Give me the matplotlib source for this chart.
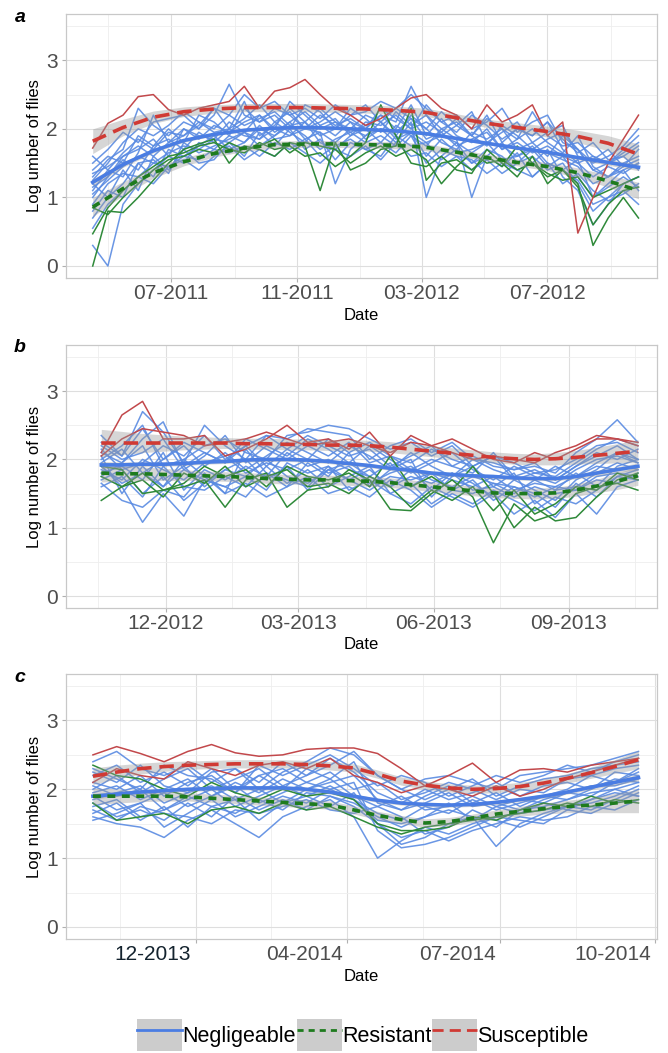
import matplotlib
matplotlib.use('Agg')
import matplotlib.pyplot as plt
import matplotlib.dates as mdates
import numpy as np
import pandas as pd
from matplotlib.lines import Line2D
from matplotlib.patches import Patch
from matplotlib.transforms import ScaledTranslation

plt.rcParams['font.family'] = ['Liberation Sans', 'DejaVu Sans']

BLUE = '#5a8be2'
GREEN = '#2f8a3a'
RED = '#c2484b'
BLUE_FIT = '#4a7de3'
GREEN_FIT = '#1e7b1e'
RED_FIT = '#d03a34'

# Données panneau a (2011-2012), un point toutes les deux semaines
a_dates = pd.date_range('2011-04-16', '2012-09-28', periods=37).to_numpy()
a_negligeable = [
    [1.3, 1.55, 1.7, 2.3, 2.05, 1.9, 2.1, 2.0, 2.2, 2.65, 2.2, 2.1, 2.3, 2.2, 2.0, 2.1, 2.25, 2.1, 2.0, 2.2, 2.1, 2.62, 2.2, 2.0, 2.1, 1.9, 2.2, 1.8, 2.0, 1.9, 2.1, 1.7, 1.5, 1.6, 1.5, 1.7, 1.9],
    [0.3, 0.0, 0.9, 1.2, 1.4, 1.6, 1.5, 1.8, 1.7, 1.9, 1.8, 2.0, 1.9, 2.1, 1.85, 1.95, 1.2, 1.7, 1.9, 2.0, 1.8, 2.1, 1.0, 1.6, 1.8, 1.5, 1.7, 1.6, 1.4, 1.5, 1.7, 1.3, 1.1, 0.6, 0.9, 1.2, 1.3],
    [1.1, 1.4, 1.3, 1.65, 2.2, 1.8, 1.9, 2.1, 1.95, 2.0, 2.4, 1.9, 2.05, 2.3, 2.1, 1.9, 2.0, 2.2, 2.35, 2.1, 1.9, 2.2, 2.0, 1.8, 1.7, 1.95, 1.85, 2.0, 1.7, 1.8, 1.6, 1.9, 1.7, 1.4, 1.3, 1.5, 1.6],
    [0.7, 1.0, 1.2, 1.5, 1.3, 1.7, 1.6, 1.75, 1.9, 1.7, 1.8, 2.05, 1.85, 1.9, 2.1, 1.8, 1.7, 1.9, 2.0, 1.8, 2.05, 1.9, 1.75, 2.0, 1.85, 1.0, 1.6, 1.8, 1.5, 1.7, 1.45, 1.6, 1.3, 1.0, 1.2, 1.4, 1.1],
    [1.5, 1.7, 1.95, 1.8, 2.1, 2.15, 2.2, 2.0, 2.3, 2.2, 2.5, 2.3, 2.4, 2.2, 2.3, 2.15, 2.35, 2.2, 2.25, 2.4, 2.3, 2.5, 2.3, 2.1, 2.2, 2.0, 2.1, 2.3, 1.95, 2.1, 2.2, 1.8, 1.7, 1.5, 1.6, 1.75, 2.0],
    [1.2, 1.0, 1.4, 1.1, 1.6, 1.4, 1.7, 1.5, 1.55, 1.8, 1.6, 1.95, 1.75, 2.0, 1.7, 1.85, 1.55, 1.8, 1.7, 1.6, 1.9, 1.75, 1.8, 1.55, 1.7, 1.5, 1.6, 1.45, 1.65, 1.3, 1.5, 1.4, 1.25, 0.9, 1.0, 1.1, 0.9],
    [1.0, 1.3, 1.6, 1.7, 1.85, 1.6, 2.0, 1.9, 1.85, 2.1, 1.95, 2.2, 2.0, 2.4, 2.2, 2.0, 2.1, 1.95, 2.05, 2.2, 2.0, 2.35, 1.9, 2.15, 1.9, 1.8, 2.0, 1.7, 1.85, 2.0, 1.8, 1.65, 1.9, 1.45, 1.3, 1.4, 1.5],
    [1.4, 1.6, 1.5, 1.9, 1.75, 2.0, 1.8, 2.2, 2.1, 1.9, 2.3, 2.1, 2.2, 2.0, 2.35, 2.25, 2.0, 2.3, 2.15, 1.95, 2.25, 2.05, 2.2, 1.9, 2.05, 2.25, 1.8, 1.95, 2.1, 1.8, 1.95, 2.05, 1.6, 1.55, 1.7, 1.45, 1.7],
    [0.9, 1.2, 1.35, 1.3, 1.5, 1.45, 1.6, 1.55, 1.7, 1.65, 1.75, 1.6, 1.8, 1.7, 1.85, 1.6, 1.75, 1.85, 1.7, 1.8, 1.65, 1.9, 1.5, 1.7, 1.6, 1.4, 1.55, 1.35, 1.5, 1.6, 1.4, 1.5, 1.2, 0.8, 1.0, 1.2, 1.3],
    [1.25, 1.5, 1.8, 2.0, 1.9, 2.05, 2.25, 2.1, 2.0, 2.2, 2.05, 2.15, 2.25, 2.05, 2.1, 2.3, 2.1, 2.0, 2.2, 2.1, 2.3, 2.15, 2.0, 2.25, 2.05, 1.9, 2.15, 2.0, 1.85, 2.25, 1.9, 1.75, 1.8, 1.6, 1.5, 1.65, 1.8],
    [0.55, 0.9, 1.1, 1.3, 1.2, 1.45, 1.55, 1.4, 1.6, 1.75, 1.55, 1.7, 1.6, 1.8, 1.65, 1.5, 1.7, 1.6, 1.75, 1.55, 1.8, 1.6, 1.65, 1.45, 1.6, 1.55, 1.35, 1.5, 1.4, 1.3, 1.5, 1.2, 1.35, 1.1, 0.95, 1.05, 1.2],
    [1.6, 1.4, 1.65, 1.85, 1.7, 1.95, 1.9, 2.05, 2.3, 2.0, 2.15, 2.35, 2.1, 2.25, 2.0, 2.2, 2.05, 2.15, 2.0, 2.3, 2.15, 2.0, 2.35, 2.1, 1.95, 2.2, 2.05, 1.85, 2.0, 1.9, 2.1, 1.85, 1.65, 1.8, 1.55, 1.6, 1.75],
    [1.15, 1.3, 1.55, 1.4, 1.75, 1.85, 1.7, 1.95, 1.8, 2.0, 1.9, 1.85, 2.1, 1.95, 1.8, 2.05, 1.9, 2.1, 1.85, 2.0, 1.95, 2.15, 1.85, 1.95, 1.75, 1.85, 1.95, 1.7, 1.8, 1.65, 1.75, 1.6, 1.5, 1.3, 1.45, 1.35, 1.5],
    [0.8, 1.1, 1.0, 1.5, 1.55, 1.35, 1.8, 1.65, 1.75, 1.85, 1.95, 1.75, 1.9, 2.05, 1.9, 1.7, 1.85, 1.95, 1.8, 1.9, 1.75, 1.95, 1.6, 1.85, 1.65, 1.7, 1.8, 1.55, 1.6, 1.75, 1.5, 1.4, 1.55, 1.0, 1.15, 1.3, 1.15],
    [1.35, 1.45, 1.6, 1.75, 1.6, 1.8, 2.0, 1.85, 2.05, 1.95, 2.1, 2.2, 1.95, 2.1, 2.25, 2.05, 2.15, 1.9, 2.1, 2.05, 2.2, 2.0, 2.1, 1.95, 2.15, 1.9, 1.75, 2.05, 1.9, 1.7, 1.85, 1.95, 1.7, 1.4, 1.5, 1.6, 1.4],
    [1.05, 1.25, 1.45, 1.6, 1.5, 1.65, 1.75, 1.7, 1.85, 1.8, 1.95, 1.85, 2.0, 1.9, 2.0, 1.95, 1.8, 2.0, 1.9, 2.1, 1.85, 1.95, 1.8, 1.9, 1.8, 1.65, 1.8, 1.75, 1.6, 1.7, 1.65, 1.55, 1.45, 1.2, 1.3, 1.45, 1.55],
]
a_resistant = [
    [0.0, 0.8, 0.78, 1.0, 1.25, 1.5, 1.7, 1.78, 1.85, 1.5, 1.75, 1.7, 1.6, 1.8, 1.75, 1.1, 1.8, 1.4, 1.5, 1.7, 1.75, 2.3, 1.25, 1.5, 1.55, 1.4, 1.6, 1.45, 1.75, 1.5, 1.3, 1.4, 1.2, 0.3, 0.7, 1.0, 0.7],
    [0.47, 0.85, 1.1, 1.3, 1.45, 1.6, 1.65, 1.75, 1.8, 1.7, 1.65, 1.8, 1.7, 1.75, 1.6, 1.65, 1.45, 1.6, 1.8, 2.35, 1.9, 1.5, 1.45, 1.6, 1.4, 1.35, 1.7, 1.5, 1.3, 1.6, 1.2, 1.4, 1.15, 0.6, 0.9, 1.1, 1.15],
    [0.85, 0.75, 1.0, 1.2, 1.4, 1.55, 1.6, 1.7, 1.65, 1.8, 1.7, 1.75, 1.85, 1.65, 1.8, 1.75, 1.7, 1.5, 1.65, 1.75, 1.6, 1.7, 1.55, 1.2, 1.45, 1.65, 1.5, 1.55, 1.4, 1.5, 1.35, 1.25, 1.3, 1.0, 1.1, 1.2, 1.3],
]
a_susceptible = [
    [1.72, 2.08, 2.2, 2.47, 2.5, 2.28, 2.2, 2.3, 2.35, 2.4, 2.62, 2.3, 2.55, 2.6, 2.72, 2.5, 2.3, 2.2, 2.05, 2.15, 2.3, 2.45, 2.5, 2.3, 2.2, 2.0, 2.35, 2.1, 2.2, 2.35, 1.9, 2.1, 0.48, 1.0, 1.5, 1.85, 2.2],
]
# courbes lissées (loess) et leur erreur standard, lues une date sur deux
a_fit_dates = a_dates[::2]
a_fit_neg = [1.22, 1.48, 1.68, 1.83, 1.92, 1.98, 2.01, 2.02, 2.01, 1.99, 1.97, 1.93, 1.86, 1.79, 1.72, 1.66, 1.58, 1.51, 1.44]
a_fit_res = [0.86, 1.13, 1.36, 1.52, 1.64, 1.72, 1.77, 1.78, 1.78, 1.77, 1.76, 1.73, 1.66, 1.58, 1.51, 1.45, 1.36, 1.24, 1.1]
a_fit_sus = [1.82, 2.02, 2.17, 2.25, 2.29, 2.31, 2.31, 2.31, 2.3, 2.29, 2.27, 2.24, 2.16, 2.08, 2.02, 1.96, 1.89, 1.79, 1.63]
a_se_neg = [0.05, 0.04, 0.03, 0.025, 0.02, 0.02, 0.02, 0.02, 0.02, 0.02, 0.02, 0.02, 0.02, 0.02, 0.02, 0.025, 0.03, 0.04, 0.05]
a_se_res = [0.14, 0.1, 0.08, 0.06, 0.05, 0.05, 0.05, 0.05, 0.05, 0.05, 0.05, 0.05, 0.05, 0.05, 0.05, 0.06, 0.07, 0.09, 0.12]
a_se_sus = [0.18, 0.12, 0.09, 0.07, 0.06, 0.06, 0.06, 0.06, 0.06, 0.06, 0.06, 0.06, 0.06, 0.06, 0.07, 0.08, 0.09, 0.11, 0.15]
a_ticks = ['2011-07-01', '2011-11-01', '2012-03-01', '2012-07-01']
a_minor = ['2011-05-01', '2011-09-01', '2012-01-01', '2012-05-01', '2012-09-01']
a_ticklabels = ['07-2011', '11-2011', '03-2012', '07-2012']
a_xlim = ['2011-03-21', '2012-10-16']

# Données panneau b (2012-2013)
b_dates = pd.date_range('2012-10-18', '2013-10-18', periods=27).to_numpy()
b_negligeable = [
    [2.35, 2.05, 2.7, 2.4, 1.95, 2.5, 2.2, 2.0, 2.35, 2.3, 2.45, 2.4, 2.35, 2.0, 2.2, 2.3, 2.1, 2.25, 2.0, 1.95, 1.85, 1.9, 1.8, 2.1, 2.3, 2.58, 2.25],
    [1.9, 1.6, 1.08, 1.5, 1.17, 1.7, 1.6, 1.45, 1.8, 1.7, 1.6, 1.9, 1.55, 1.7, 1.5, 1.35, 1.6, 1.45, 1.3, 1.5, 1.2, 1.4, 1.15, 1.5, 1.2, 1.6, 1.7],
    [2.0, 2.2, 2.5, 1.9, 2.0, 2.2, 2.3, 2.1, 2.0, 2.35, 2.4, 2.5, 2.45, 2.3, 2.15, 2.25, 2.05, 2.2, 1.9, 2.05, 1.7, 1.8, 1.85, 2.0, 2.2, 2.25, 2.1],
    [1.7, 1.85, 1.5, 1.75, 1.4, 1.65, 1.85, 1.75, 1.55, 1.95, 1.8, 1.9, 1.7, 1.85, 1.6, 1.75, 1.65, 1.8, 1.55, 1.6, 1.45, 1.6, 1.5, 1.55, 1.7, 1.65, 1.8],
    [2.1, 1.95, 2.3, 2.55, 1.9, 2.1, 1.95, 2.3, 2.15, 2.0, 2.2, 2.05, 2.25, 1.95, 2.05, 1.85, 2.0, 1.9, 1.8, 2.1, 1.75, 1.85, 1.7, 1.9, 2.05, 2.2, 2.0],
    [1.6, 1.75, 1.45, 1.9, 1.6, 1.55, 1.75, 1.6, 1.9, 1.65, 1.85, 1.6, 1.75, 1.9, 1.5, 1.65, 1.35, 1.55, 1.7, 1.4, 1.6, 1.5, 1.3, 1.65, 1.45, 1.75, 1.85],
    [2.2, 2.0, 2.1, 2.3, 1.85, 2.05, 2.35, 1.95, 2.2, 2.05, 2.3, 2.15, 1.95, 2.2, 2.0, 1.8, 1.95, 2.1, 1.85, 1.7, 1.9, 1.75, 1.65, 1.85, 2.0, 2.05, 1.95],
    [1.8, 1.9, 1.7, 2.1, 1.55, 1.85, 1.7, 1.9, 1.75, 2.1, 1.9, 2.0, 1.85, 1.75, 1.95, 1.6, 1.8, 1.7, 1.6, 1.75, 1.55, 1.65, 1.6, 1.75, 1.9, 1.85, 1.9],
    [2.05, 1.5, 1.9, 1.6, 2.0, 1.75, 1.5, 2.15, 1.8, 1.6, 1.95, 1.75, 2.1, 1.6, 1.85, 2.0, 1.45, 1.75, 1.9, 1.6, 1.8, 1.35, 1.55, 1.8, 1.6, 1.9, 2.0],
    [1.95, 2.15, 1.8, 2.0, 2.2, 1.9, 2.1, 1.85, 2.05, 2.25, 2.1, 1.95, 2.2, 2.05, 1.85, 2.1, 1.9, 1.75, 2.0, 1.85, 1.75, 1.7, 1.9, 1.75, 1.95, 2.1, 1.95],
    [1.65, 1.4, 1.3, 1.55, 1.45, 1.8, 1.5, 1.65, 1.45, 1.6, 1.75, 1.5, 1.6, 1.45, 1.7, 1.55, 1.3, 1.5, 1.35, 1.55, 1.4, 1.25, 1.45, 1.35, 1.55, 1.75, 1.7],
    [2.25, 2.05, 2.45, 2.0, 2.25, 2.1, 1.95, 2.2, 2.35, 2.15, 2.0, 2.3, 2.1, 2.25, 2.05, 1.95, 2.15, 2.0, 1.9, 2.05, 1.95, 1.8, 1.75, 1.95, 2.15, 2.3, 2.2],
    [1.85, 1.7, 2.0, 1.85, 1.7, 1.95, 2.05, 1.8, 1.95, 1.85, 2.0, 1.8, 1.9, 1.65, 1.8, 1.9, 1.7, 1.6, 1.75, 1.65, 1.5, 1.7, 1.55, 1.6, 1.8, 1.95, 1.85],
    [1.75, 1.95, 2.2, 1.7, 1.9, 1.6, 1.85, 2.0, 1.7, 1.9, 1.55, 1.85, 1.95, 1.75, 1.6, 1.85, 1.55, 1.8, 1.65, 1.45, 1.7, 1.55, 1.4, 1.7, 1.85, 2.1, 2.0],
    [2.15, 1.85, 1.95, 2.2, 2.05, 2.35, 2.0, 2.2, 1.9, 2.15, 2.35, 2.2, 2.05, 2.15, 1.9, 2.05, 2.2, 1.9, 2.05, 1.9, 1.85, 1.95, 1.7, 1.9, 2.1, 2.0, 2.15],
    [1.9, 1.65, 1.8, 1.6, 1.85, 1.7, 1.6, 1.75, 2.0, 1.75, 1.65, 1.85, 1.7, 1.55, 1.75, 1.7, 1.8, 1.55, 1.5, 1.65, 1.6, 1.45, 1.6, 1.55, 1.75, 1.8, 1.75],
]
b_resistant = [
    [1.4, 1.6, 1.8, 1.55, 1.6, 1.7, 1.3, 1.7, 1.8, 1.3, 1.55, 1.6, 1.85, 1.7, 1.27, 1.25, 1.5, 1.7, 1.45, 0.78, 1.35, 1.1, 1.2, 1.5, 1.6, 1.65, 1.55],
    [1.9, 1.85, 1.5, 1.55, 1.65, 1.9, 1.75, 1.85, 1.6, 1.9, 1.75, 1.7, 1.8, 1.6, 2.05, 1.6, 1.75, 1.55, 1.9, 1.5, 1.0, 1.3, 1.1, 1.15, 1.45, 1.7, 1.8],
    [1.75, 1.6, 1.7, 1.45, 1.8, 1.65, 1.9, 1.6, 1.75, 1.85, 1.6, 1.65, 1.5, 1.75, 1.6, 1.3, 1.55, 1.4, 1.6, 1.25, 1.55, 1.2, 1.35, 1.6, 1.55, 1.8, 1.7],
]
b_susceptible = [
    [2.1, 2.65, 2.85, 2.3, 2.3, 2.35, 2.05, 2.15, 2.3, 2.5, 2.25, 2.3, 2.15, 2.4, 2.05, 2.35, 2.2, 2.3, 2.15, 2.0, 1.95, 2.1, 2.0, 2.15, 2.3, 2.3, 2.25],
    [2.05, 2.3, 2.45, 2.4, 2.35, 2.2, 2.25, 2.3, 2.4, 2.3, 2.2, 2.25, 2.3, 2.2, 2.1, 2.25, 2.2, 2.1, 2.0, 2.05, 2.0, 1.95, 2.1, 2.2, 2.35, 2.3, 2.2],
]
b_fit_dates = b_dates
b_fit_neg = [1.92, 1.92, 1.93, 1.93, 1.94, 1.96, 1.97, 1.99, 2.0, 2.0, 1.99, 1.97, 1.94, 1.91, 1.87, 1.84, 1.8, 1.78, 1.76, 1.75, 1.73, 1.72, 1.72, 1.75, 1.8, 1.85, 1.9]
b_fit_res = [1.8, 1.79, 1.79, 1.78, 1.77, 1.76, 1.75, 1.74, 1.72, 1.71, 1.7, 1.7, 1.69, 1.68, 1.66, 1.63, 1.6, 1.57, 1.54, 1.51, 1.5, 1.5, 1.51, 1.55, 1.61, 1.68, 1.76]
b_fit_sus = [2.24, 2.24, 2.24, 2.24, 2.24, 2.24, 2.24, 2.23, 2.23, 2.22, 2.22, 2.21, 2.21, 2.2, 2.18, 2.15, 2.12, 2.09, 2.06, 2.03, 2.01, 2.0, 2.01, 2.03, 2.06, 2.09, 2.12]
b_se_neg = [0.05, 0.04, 0.035, 0.03, 0.03, 0.03, 0.03, 0.03, 0.03, 0.03, 0.03, 0.03, 0.03, 0.03, 0.03, 0.03, 0.03, 0.03, 0.03, 0.03, 0.03, 0.03, 0.03, 0.035, 0.04, 0.045, 0.05]
b_se_res = [0.13, 0.11, 0.1, 0.09, 0.08, 0.07, 0.07, 0.07, 0.07, 0.07, 0.07, 0.07, 0.07, 0.07, 0.07, 0.07, 0.07, 0.07, 0.07, 0.07, 0.07, 0.08, 0.08, 0.09, 0.1, 0.12, 0.14]
b_se_sus = [0.2, 0.17, 0.14, 0.12, 0.1, 0.09, 0.08, 0.08, 0.08, 0.08, 0.08, 0.08, 0.08, 0.08, 0.08, 0.08, 0.08, 0.08, 0.08, 0.08, 0.08, 0.08, 0.09, 0.1, 0.12, 0.14, 0.17]
b_ticks = ['2012-12-01', '2013-03-01', '2013-06-01', '2013-09-01']
b_minor = ['2012-10-16', '2013-01-15', '2013-04-16', '2013-07-16', '2013-10-16']
b_ticklabels = ['12-2012', '03-2013', '06-2013', '09-2013']
b_xlim = ['2012-09-24', '2013-10-31']

# Données panneau c (2013-2014)
c_dates = pd.date_range('2013-11-01', '2014-09-21', periods=24).to_numpy()
c_negligeable = [
    [2.4, 2.55, 2.3, 2.2, 2.35, 2.1, 2.3, 2.0, 2.25, 2.4, 2.6, 2.5, 2.2, 2.0, 2.15, 2.2, 2.1, 2.0, 2.2, 2.25, 2.3, 2.35, 2.45, 2.55],
    [1.6, 1.5, 1.45, 1.3, 1.55, 1.7, 1.5, 1.3, 1.6, 1.75, 1.85, 1.6, 1.0, 1.25, 1.45, 1.35, 1.5, 1.6, 1.65, 1.7, 1.75, 1.85, 1.95, 1.9],
    [2.1, 2.0, 2.2, 1.9, 2.1, 2.2, 1.95, 2.2, 2.0, 2.3, 2.15, 2.4, 1.8, 1.7, 1.9, 2.05, 1.8, 1.95, 1.75, 1.9, 2.0, 2.2, 2.1, 2.3],
    [1.75, 1.85, 1.6, 1.7, 1.9, 1.75, 1.65, 1.85, 1.7, 1.95, 1.9, 1.75, 1.5, 1.2, 1.3, 1.5, 1.6, 1.17, 1.5, 1.65, 1.75, 1.8, 1.9, 2.05],
    [2.25, 2.1, 2.35, 2.05, 1.95, 2.25, 2.3, 2.1, 2.4, 2.2, 2.35, 2.55, 2.2, 2.0, 1.85, 2.0, 2.15, 1.9, 2.05, 2.15, 2.2, 2.3, 2.35, 2.4],
    [1.9, 1.7, 1.8, 1.95, 1.75, 1.9, 2.05, 1.8, 1.95, 2.1, 2.0, 1.85, 1.65, 1.55, 1.75, 1.65, 1.85, 1.7, 1.8, 1.9, 1.85, 2.0, 2.15, 2.1],
    [1.55, 1.65, 1.8, 1.45, 1.65, 1.85, 1.6, 1.75, 1.9, 1.8, 2.0, 2.1, 1.4, 1.15, 1.2, 1.3, 1.45, 1.6, 1.55, 1.5, 1.7, 1.65, 1.8, 1.95],
    [2.0, 2.2, 1.95, 2.15, 2.3, 2.0, 2.15, 2.3, 2.05, 2.2, 2.45, 2.25, 1.95, 1.8, 2.0, 1.85, 1.95, 2.1, 1.9, 2.05, 2.1, 2.0, 2.25, 2.2],
    [1.8, 1.6, 1.7, 1.55, 1.8, 1.6, 1.9, 1.7, 1.85, 1.7, 1.9, 1.8, 1.6, 1.45, 1.6, 1.8, 1.55, 1.75, 1.65, 1.8, 1.7, 1.85, 2.0, 1.9],
    [2.2, 2.35, 2.1, 2.25, 2.05, 2.3, 2.0, 2.2, 2.3, 2.1, 2.25, 2.0, 2.1, 1.85, 1.95, 2.1, 2.0, 1.85, 2.0, 1.95, 2.15, 2.2, 2.3, 2.35],
    [1.65, 1.8, 1.55, 1.75, 1.45, 1.75, 1.85, 1.55, 1.8, 1.9, 1.75, 1.95, 1.5, 1.3, 1.4, 1.25, 1.4, 1.5, 1.6, 1.55, 1.6, 1.75, 1.7, 1.85],
    [1.95, 2.05, 1.85, 2.0, 2.15, 1.9, 2.1, 1.95, 2.15, 2.0, 2.1, 2.2, 1.85, 1.7, 1.8, 1.95, 1.75, 1.8, 1.7, 1.85, 1.95, 2.05, 2.05, 2.15],
    [1.7, 1.55, 1.75, 1.65, 1.6, 1.5, 1.7, 1.65, 1.75, 1.85, 1.7, 1.65, 1.75, 1.6, 1.35, 1.45, 1.7, 1.55, 1.45, 1.6, 1.75, 1.7, 1.85, 2.0],
    [2.3, 2.15, 2.0, 2.35, 2.2, 2.15, 1.95, 2.35, 2.2, 2.35, 2.5, 2.3, 2.05, 2.2, 2.1, 1.9, 2.05, 2.2, 2.1, 2.2, 2.35, 2.25, 2.4, 2.5],
    [1.85, 1.95, 2.05, 1.8, 1.95, 2.05, 1.85, 2.0, 1.8, 2.0, 2.15, 1.9, 1.75, 1.9, 1.7, 1.75, 1.9, 1.75, 1.85, 1.8, 1.95, 1.9, 2.1, 2.25],
    [2.05, 1.9, 2.0, 1.7, 1.85, 2.0, 1.75, 1.9, 2.05, 1.9, 2.05, 1.85, 1.55, 1.5, 1.6, 1.7, 1.6, 1.45, 1.7, 1.75, 1.85, 1.95, 2.0, 2.1],
]
c_resistant = [
    [2.35, 2.2, 2.15, 2.0, 1.9, 2.1, 1.95, 1.85, 2.0, 1.9, 1.95, 1.85, 1.5, 1.4, 1.4, 1.45, 1.6, 1.55, 1.7, 1.8, 1.75, 1.9, 1.8, 1.85],
    [1.8, 1.55, 1.6, 1.65, 1.5, 1.7, 1.75, 1.65, 1.8, 1.7, 1.75, 1.6, 1.45, 1.35, 1.45, 1.5, 1.55, 1.6, 1.65, 1.7, 1.8, 1.75, 1.85, 1.8],
]
c_susceptible = [
    [2.5, 2.62, 2.52, 2.4, 2.55, 2.65, 2.53, 2.48, 2.5, 2.58, 2.6, 2.6, 2.52, 2.3, 2.05, 2.2, 2.38, 2.1, 2.28, 2.3, 2.25, 2.35, 2.4, 2.45],
    [2.1, 2.3, 2.2, 2.15, 2.4, 2.3, 2.2, 2.35, 2.4, 2.3, 2.45, 2.2, 2.1, 1.95, 2.05, 2.0, 1.9, 2.05, 1.9, 2.0, 2.15, 2.25, 2.35, 2.45],
]
c_fit_dates = c_dates
c_fit_neg = [1.9, 1.93, 1.96, 1.98, 2.0, 2.01, 2.02, 2.02, 2.02, 2.0, 1.96, 1.9, 1.84, 1.8, 1.78, 1.77, 1.78, 1.81, 1.85, 1.9, 1.96, 2.03, 2.1, 2.17]
c_fit_res = [1.9, 1.9, 1.9, 1.9, 1.89, 1.87, 1.85, 1.83, 1.81, 1.79, 1.77, 1.7, 1.62, 1.56, 1.51, 1.53, 1.58, 1.64, 1.68, 1.72, 1.75, 1.77, 1.8, 1.83]
c_fit_sus = [2.19, 2.25, 2.3, 2.33, 2.35, 2.36, 2.37, 2.37, 2.37, 2.36, 2.34, 2.31, 2.22, 2.12, 2.06, 2.02, 2.0, 2.01, 2.04, 2.09, 2.16, 2.24, 2.33, 2.43]
c_se_neg = [0.04, 0.035, 0.03, 0.03, 0.03, 0.03, 0.03, 0.03, 0.03, 0.03, 0.03, 0.03, 0.03, 0.03, 0.03, 0.03, 0.03, 0.03, 0.03, 0.03, 0.03, 0.035, 0.04, 0.05]
c_se_res = [0.12, 0.1, 0.08, 0.07, 0.06, 0.06, 0.06, 0.06, 0.06, 0.06, 0.06, 0.06, 0.06, 0.06, 0.06, 0.06, 0.06, 0.06, 0.07, 0.08, 0.09, 0.11, 0.14, 0.17]
c_se_sus = [0.12, 0.1, 0.08, 0.07, 0.06, 0.06, 0.06, 0.06, 0.06, 0.06, 0.06, 0.06, 0.06, 0.06, 0.06, 0.06, 0.06, 0.06, 0.06, 0.06, 0.07, 0.08, 0.1, 0.13]
c_ticks = ['2014-01-01', '2014-04-01', '2014-07-01', '2014-10-01']
c_minor = ['2013-11-17', '2014-02-15', '2014-05-16', '2014-08-15']
c_ticklabels = ['12-2013', '04-2014', '07-2014', '10-2014']
c_xlim = ['2013-10-16', '2014-10-02']


def to_num(days):
    return mdates.date2num(np.array(days, dtype='datetime64[D]'))


def panel(ax, dates, neg, res, sus, fit_dates, fits, ses, ticks, minor, ticklabels, xlim, ylabel):
    for y in neg:
        ax.plot(dates, y, color=BLUE, lw=1.1, alpha=0.9, zorder=2)
    for y in res:
        ax.plot(dates, y, color=GREEN, lw=1.1, zorder=2)
    for y in sus:
        ax.plot(dates, y, color=RED, lw=1.1, zorder=2)
    for fit, se in zip(fits, ses):
        fit = np.array(fit)
        se = np.array(se)
        ax.fill_between(fit_dates, fit - se, fit + se, color='#999999', alpha=0.4, lw=0, zorder=3)
    ax.plot(fit_dates, fits[0], color=BLUE_FIT, lw=2.6, zorder=4)
    ax.plot(fit_dates, fits[1], color=GREEN_FIT, lw=2.6, dashes=(2.2, 1.8), zorder=4)
    ax.plot(fit_dates, fits[2], color=RED_FIT, lw=2.6, dashes=(4, 2.2), zorder=4)

    ax.set_xlim(to_num(xlim))
    ax.set_ylim(-0.175, 3.675)
    ax.set_yticks([0, 1, 2, 3])
    ax.set_yticks([0.5, 1.5, 2.5, 3.5], minor=True)
    ax.set_xticks(to_num(ticks))
    ax.set_xticklabels(ticklabels)
    ax.set_xticks(to_num(minor), minor=True)
    ax.grid(which='major', color='#dedede', lw=0.8)
    ax.grid(which='minor', color='#eeeeee', lw=0.6)
    ax.set_axisbelow(True)
    for s in ax.spines.values():
        s.set_color('#c8c8c8')
        s.set_linewidth(0.9)
    ax.tick_params(which='major', length=3, color='#b0b0b0', labelsize=15, labelcolor='#4d4d4d')
    ax.tick_params(axis='x', pad=1.5)
    ax.tick_params(axis='y', pad=3)
    ax.tick_params(which='minor', length=0)
    ax.set_ylabel(ylabel, fontsize=12)
    ax.yaxis.set_label_coords(-0.041, 0.5)
    ax.set_xlabel('Date', fontsize=12)
    ax.xaxis.set_label_coords(0.5, -0.112)


fig = plt.figure(figsize=(6.68, 10.53), dpi=100)
W, H = 668, 1053
boxes = [(14, 278), (345, 608), (674, 939)]
axes = [fig.add_axes([66 / W, 1 - b / H, 591 / W, (b - t) / H]) for t, b in boxes]

panel(axes[0], a_dates, a_negligeable, a_resistant, a_susceptible, a_fit_dates,
      [a_fit_neg, a_fit_res, a_fit_sus], [a_se_neg, a_se_res, a_se_sus],
      a_ticks, a_minor, a_ticklabels, a_xlim, 'Log umber of flies')
panel(axes[1], b_dates, b_negligeable, b_resistant, b_susceptible, b_fit_dates,
      [b_fit_neg, b_fit_res, b_fit_sus], [b_se_neg, b_se_res, b_se_sus],
      b_ticks, b_minor, b_ticklabels, b_xlim, 'Log number of flies')
panel(axes[2], c_dates, c_negligeable, c_resistant, c_susceptible, c_fit_dates,
      [c_fit_neg, c_fit_res, c_fit_sus], [c_se_neg, c_se_res, c_se_sus],
      c_ticks, c_minor, c_ticklabels, c_xlim, 'Log number of flies')

# les étiquettes du panneau c sont décalées à gauche de leur graduation
shift = ScaledTranslation(-43 / 100, 0, fig.dpi_scale_trans)
for lab in axes[2].get_xticklabels():
    lab.set_transform(lab.get_transform() + shift)
axes[2].get_xticklabels()[0].set_color('#14232e')

for letter, (t, b) in zip('abc', boxes):
    fig.text(20 / W, 1 - (t + 3) / H, letter, ha='center', va='center',
             fontsize=14, fontweight='bold', style='italic')

key = Patch(facecolor='#cccccc', edgecolor='none')
handles = [
    (key, Line2D([], [], color=BLUE_FIT, lw=2)),
    (key, Line2D([], [], color=GREEN_FIT, lw=2, dashes=(2.2, 1.8))),
    (key, Line2D([], [], color=RED_FIT, lw=2, dashes=(4, 2.2))),
]
fig.legend(handles, ['Negligeable', 'Resistant', 'Susceptible'], ncol=3,
           loc='center', bbox_to_anchor=(0.543, 1 - 1035 / H), frameon=False,
           fontsize=15.5, handlelength=2.1, handleheight=1.9, handletextpad=0.0,
           columnspacing=0.05, borderpad=0)

fig.savefig('out.png', dpi=100)
